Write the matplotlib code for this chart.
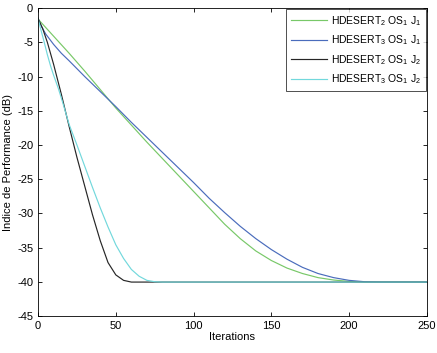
import matplotlib
matplotlib.use("Agg")
import matplotlib.pyplot as plt

plt.rcParams['font.family'] = ['Liberation Sans', 'DejaVu Sans']
plt.rcParams['mathtext.default'] = 'regular'
plt.rcParams['axes.unicode_minus'] = False
plt.rcParams['font.size'] = 8

# HDESERT2 OS1 J1 (green)
x_g = [0, 10, 20, 30, 40, 50, 60, 70, 80, 90, 100, 110, 120, 130, 140,
       150, 160, 170, 180, 190, 200, 210, 250]
y_g = [-1.6, -4.1, -6.6, -9.2, -11.9, -14.6, -17.1, -19.6, -22.0, -24.4, -26.8,
       -29.2, -31.6, -33.7, -35.5, -36.9, -38.0, -38.8, -39.4, -39.75, -39.95,
       -40.05, -40.05]

# HDESERT3 OS1 J1 (blue)
x_b = [0, 2, 5, 10, 15, 20, 30, 40, 50, 60, 70, 80, 90, 100, 110, 120, 130,
       140, 150, 160, 170, 180, 190, 200, 210, 220, 250]
y_b = [-1.5, -2.6, -3.8, -5.3, -6.6, -7.7, -10.0, -12.2, -14.4, -16.7, -18.9,
       -21.1, -23.3, -25.5, -27.8, -29.9, -31.9, -33.7, -35.3, -36.7, -37.9,
       -38.8, -39.4, -39.8, -40.0, -40.05, -40.05]

# HDESERT2 OS1 J2 (black)
x_k = [0, 3, 6, 10, 15, 20, 25, 30, 35, 40, 45, 50, 55, 60, 250]
y_k = [-1.5, -3.0, -5.0, -8.2, -12.6, -17.3, -21.8, -26.0, -30.2, -34.0,
       -37.2, -39.0, -39.8, -40.05, -40.05]

# HDESERT3 OS1 J2 (cyan)
x_c = [0, 2, 4, 6, 8, 10, 13, 16, 20, 25, 30, 35, 40, 45, 50, 55, 60, 65,
       70, 75, 80, 250]
y_c = [-1.5, -3.3, -5.0, -6.8, -8.4, -9.8, -11.7, -13.9, -17.0, -20.0, -23.1,
       -26.2, -29.2, -32.0, -34.6, -36.6, -38.2, -39.2, -39.8, -40.0, -40.05,
       -40.05]

labels = ['HDESERT$_2$ OS$_1$ J$_1$', 'HDESERT$_3$ OS$_1$ J$_1$',
          'HDESERT$_2$ OS$_1$ J$_2$', 'HDESERT$_3$ OS$_1$ J$_2$']
colors = ['#78c868', '#4a6cbc', '#262626', '#72d8dc']

fig = plt.figure(figsize=(4.37, 3.53), dpi=100)
ax = fig.add_axes([0.087, 0.105, 0.89, 0.872])

for xs, ys, c, lab in zip([x_g, x_b, x_k, x_c], [y_g, y_b, y_k, y_c], colors, labels):
    ax.plot(xs, ys, color=c, lw=0.85, label=lab)

ax.set_xlim(0, 250)
ax.set_ylim(-45, 0)
ax.set_xticks(range(0, 251, 50))
ax.set_yticks(range(-45, 1, 5))
ax.tick_params(direction='in', top=True, right=True, length=3, width=0.6, labelsize=8)
for s in ax.spines.values():
    s.set_linewidth(0.6)
ax.set_xlabel('Iterations', fontsize=8, labelpad=1)
ax.set_ylabel('Indice de Performance (dB)', fontsize=8, labelpad=3)

leg = ax.legend(loc='upper right', fontsize=7.5, frameon=True, fancybox=False,
                edgecolor='black', handlelength=3.4, handletextpad=0.4,
                labelspacing=0.55, borderaxespad=0.05, borderpad=0.5)
leg.get_frame().set_linewidth(0.6)

fig.savefig('out.png', dpi=100)
